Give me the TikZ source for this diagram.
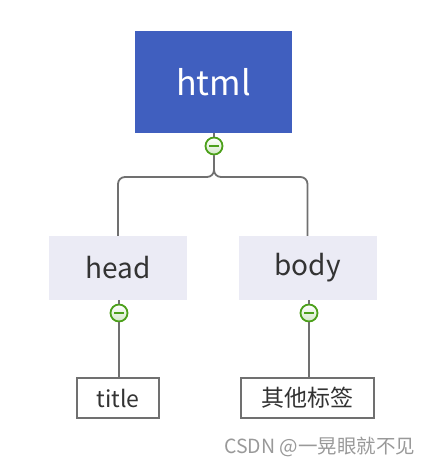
\documentclass[tikz,border=0pt]{standalone}
\usepackage{fontspec}
\setmainfont{Noto Sans CJK SC}
\usetikzlibrary{positioning,calc}
\definecolor{rootblue}{RGB}{64,95,191}
\definecolor{paleblue}{RGB}{235,235,245}
\definecolor{linegray}{RGB}{112,112,112}
\definecolor{toggreen}{RGB}{76,160,26}
\definecolor{textgray}{RGB}{51,51,51}
\tikzset{
    % node styles
    rootbox/.style={
        rectangle, fill=rootblue, text=white,
        minimum width=157pt, minimum height=102pt,
        font=\fontsize{34}{40}\selectfont, inner sep=0pt
    },
    branchbox/.style={
        rectangle, fill=paleblue, text=textgray,
        minimum width=138pt, minimum height=64pt,
        font=\fontsize{28}{33}\selectfont, inner sep=0pt
    },
    leafbox/.style={
        rectangle, draw=linegray, line width=1.8pt, fill=white, text=textgray,
        minimum height=40pt, font=\fontsize{23}{27}\selectfont, inner sep=0pt
    },
    togglebtn/.style={
        circle, draw=toggreen, line width=1.8pt, minimum size=17pt, inner sep=0pt,
        top color=white, bottom color=toggreen!25,
        path picture={\draw[toggreen, line width=1.8pt]
            ($(path picture bounding box.center)+(-5pt,0)$) --
            ($(path picture bounding box.center)+(5pt,0)$);}
    },
    link/.style={
        draw=linegray, line width=1.8pt, rounded corners=7pt
    },
    watermark/.style={
        text=gray!80, font=\fontsize{19.5}{22}\selectfont, inner sep=0pt
    }
}
\begin{document}
\begin{tikzpicture}[x=1pt, y=-1pt]
\useasboundingbox (0,0) rectangle (431,468);

\node[rootbox] (html) at (213.5,82) {html};
\node[branchbox] (head) at (118,268) {head};
\node[branchbox] (body) at (307.5,268) {body};
\node[leafbox, minimum width=82pt] (title) at (118,398) {title};
\node[leafbox, minimum width=133pt] (others) at (307.5,398) {其他标签};

\node[togglebtn] (tgHtml) at (214,146) {};
\node[togglebtn] (tgHead) at (119,313) {};
\node[togglebtn] (tgBody) at (309,313) {};
\coordinate (hub) at (214,177);

% connectors
\draw[link] (html.south -| tgHtml) -- (tgHtml.north);
\draw[link] (tgHtml.south) -- (hub) -- (hub -| head.north) -- (head.north);
\draw[link] (tgHtml.south) -- (hub) -- (hub -| body.north) -- (body.north);
\draw[link] (head.south -| tgHead) -- (tgHead.north);
\draw[link] (tgHead.south) -- (tgHead.south |- title.north);
\draw[link] (body.south -| tgBody) -- (tgBody.north);
\draw[link] (tgBody.south) -- (tgBody.south |- others.north);

\node[watermark, anchor=west] (mark) at (224,447) {CSDN @一晃眼就不见};
\end{tikzpicture}
\end{document}
